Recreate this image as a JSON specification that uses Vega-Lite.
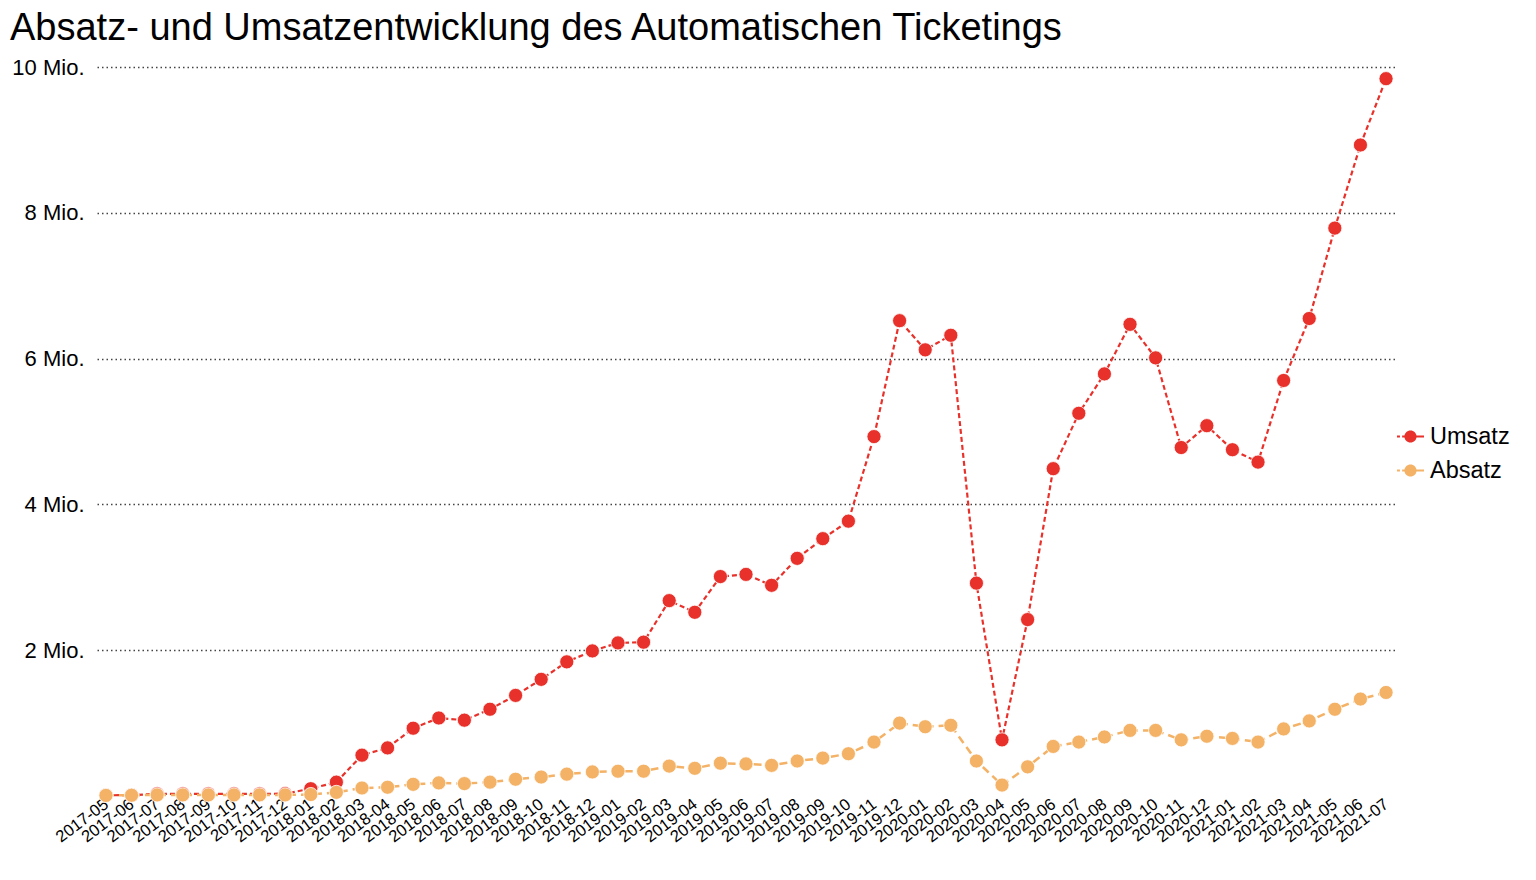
{
  "$schema": "https://vega.github.io/schema/vega-lite/v6.json",
  "autosize": "none",
  "width": 1298,
  "height": 729,
  "padding": {"left": 97, "top": 67, "right": 141, "bottom": 84},
  "background": "white",
  "config": {
    "font": "Liberation Sans",
    "view": {"stroke": null}
  },
  "title": {
    "text": "Absatz- und Umsatzentwicklung des Automatischen Ticketings",
    "anchor": "start",
    "frame": "group",
    "fontSize": 38,
    "fontWeight": "normal",
    "color": "black",
    "font": "Liberation Sans",
    "dx": -87,
    "offset": 8
  },
  "data": {
    "values": [
      {"month": "2017-05", "Umsatz": 10000, "Absatz": 8000},
      {"month": "2017-06", "Umsatz": 12000, "Absatz": 10000},
      {"month": "2017-07", "Umsatz": 30000, "Absatz": 15000},
      {"month": "2017-08", "Umsatz": 30000, "Absatz": 15000},
      {"month": "2017-09", "Umsatz": 30000, "Absatz": 15000},
      {"month": "2017-10", "Umsatz": 30000, "Absatz": 15000},
      {"month": "2017-11", "Umsatz": 30000, "Absatz": 15000},
      {"month": "2017-12", "Umsatz": 32000, "Absatz": 15000},
      {"month": "2018-01", "Umsatz": 100000, "Absatz": 20000},
      {"month": "2018-02", "Umsatz": 190000, "Absatz": 50000},
      {"month": "2018-03", "Umsatz": 560000, "Absatz": 110000},
      {"month": "2018-04", "Umsatz": 660000, "Absatz": 120000},
      {"month": "2018-05", "Umsatz": 930000, "Absatz": 160000},
      {"month": "2018-06", "Umsatz": 1070000, "Absatz": 180000},
      {"month": "2018-07", "Umsatz": 1040000, "Absatz": 170000},
      {"month": "2018-08", "Umsatz": 1190000, "Absatz": 190000},
      {"month": "2018-09", "Umsatz": 1380000, "Absatz": 230000},
      {"month": "2018-10", "Umsatz": 1600000, "Absatz": 260000},
      {"month": "2018-11", "Umsatz": 1840000, "Absatz": 300000},
      {"month": "2018-12", "Umsatz": 1990000, "Absatz": 330000},
      {"month": "2019-01", "Umsatz": 2100000, "Absatz": 340000},
      {"month": "2019-02", "Umsatz": 2110000, "Absatz": 340000},
      {"month": "2019-03", "Umsatz": 2680000, "Absatz": 410000},
      {"month": "2019-04", "Umsatz": 2520000, "Absatz": 380000},
      {"month": "2019-05", "Umsatz": 3010000, "Absatz": 450000},
      {"month": "2019-06", "Umsatz": 3040000, "Absatz": 440000},
      {"month": "2019-07", "Umsatz": 2890000, "Absatz": 420000},
      {"month": "2019-08", "Umsatz": 3260000, "Absatz": 480000},
      {"month": "2019-09", "Umsatz": 3530000, "Absatz": 520000},
      {"month": "2019-10", "Umsatz": 3770000, "Absatz": 580000},
      {"month": "2019-11", "Umsatz": 4930000, "Absatz": 740000},
      {"month": "2019-12", "Umsatz": 6520000, "Absatz": 1000000},
      {"month": "2020-01", "Umsatz": 6120000, "Absatz": 950000},
      {"month": "2020-02", "Umsatz": 6320000, "Absatz": 970000},
      {"month": "2020-03", "Umsatz": 2920000, "Absatz": 480000},
      {"month": "2020-04", "Umsatz": 770000, "Absatz": 150000},
      {"month": "2020-05", "Umsatz": 2420000, "Absatz": 400000},
      {"month": "2020-06", "Umsatz": 4490000, "Absatz": 680000},
      {"month": "2020-07", "Umsatz": 5250000, "Absatz": 740000},
      {"month": "2020-08", "Umsatz": 5790000, "Absatz": 810000},
      {"month": "2020-09", "Umsatz": 6470000, "Absatz": 900000},
      {"month": "2020-10", "Umsatz": 6010000, "Absatz": 900000},
      {"month": "2020-11", "Umsatz": 4780000, "Absatz": 770000},
      {"month": "2020-12", "Umsatz": 5080000, "Absatz": 820000},
      {"month": "2021-01", "Umsatz": 4750000, "Absatz": 790000},
      {"month": "2021-02", "Umsatz": 4580000, "Absatz": 740000},
      {"month": "2021-03", "Umsatz": 5700000, "Absatz": 920000},
      {"month": "2021-04", "Umsatz": 6550000, "Absatz": 1030000},
      {"month": "2021-05", "Umsatz": 7790000, "Absatz": 1190000},
      {"month": "2021-06", "Umsatz": 8930000, "Absatz": 1330000},
      {"month": "2021-07", "Umsatz": 9840000, "Absatz": 1420000}
    ]
  },
  "transform": [
    {"fold": ["Umsatz", "Absatz"], "as": ["series", "value"]}
  ],
  "encoding": {
    "x": {
      "field": "month",
      "type": "ordinal",
      "title": null,
      "scale": {"type": "point", "padding": 0.35},
      "axis": {
        "domain": false,
        "ticks": false,
        "grid": false,
        "labelAngle": -37,
        "labelFontSize": 16.5,
        "labelColor": "black",
        "labelAlign": "right",
        "labelBaseline": "middle",
        "labelPadding": 6,
        "labelDx": -6,
        "labelOverlap": false,
        "labelFont": "Liberation Sans"
      }
    },
    "y": {
      "field": "value",
      "type": "quantitative",
      "title": null,
      "scale": {"domain": [0, 10000000], "nice": false, "zero": true},
      "axis": {
        "values": [2000000, 4000000, 6000000, 8000000, 10000000],
        "labelExpr": "format(datum.value / 1000000, 'd') + ' Mio.'",
        "domain": false,
        "ticks": false,
        "grid": true,
        "gridColor": "#444444",
        "gridDash": [1.5, 3],
        "gridWidth": 1.5,
        "labelFontSize": 22,
        "labelColor": "black",
        "labelPadding": 13,
        "labelFont": "Liberation Sans"
      }
    },
    "color": {
      "field": "series",
      "type": "nominal",
      "scale": {"domain": ["Umsatz", "Absatz"], "range": ["#E8312A", "#F4B266"]},
      "legend": {
        "title": null,
        "orient": "none",
        "legendX": 1300,
        "legendY": 356,
        "labelFontSize": 23.5,
        "labelColor": "black",
        "labelFont": "Liberation Sans",
        "symbolType": "M-1,-0.07H-0.78V0.07H-1Z M-0.62,-0.07H-0.4V0.07H-0.62Z M0.4,-0.07H1V0.07H0.4Z M0.45,0A0.45,0.45 0 1 1 -0.45,0A0.45,0.45 0 1 1 0.45,0Z",
        "symbolSize": 729,
        "symbolStrokeWidth": 0,
        "symbolOpacity": 1,
        "rowPadding": 9,
        "labelOffset": 6,
        "encode": {
          "symbols": {
            "update": {
              "fill": {"scale": "color", "field": "value"},
              "stroke": {"value": "transparent"},
              "opacity": {"value": 1}
            }
          }
        }
      }
    }
  },
  "layer": [
    {
      "transform": [{"filter": "datum.series === 'Umsatz'"}],
      "layer": [
        {"mark": {"type": "line", "strokeWidth": 2.2, "strokeDash": [5, 3]}},
        {"mark": {"type": "point", "filled": true, "size": 200, "opacity": 1, "stroke": "white", "strokeWidth": 0.8}}
      ]
    },
    {
      "transform": [{"filter": "datum.series === 'Absatz'"}],
      "layer": [
        {"mark": {"type": "line", "strokeWidth": 2.5, "strokeDash": [8, 5]}},
        {"mark": {"type": "point", "filled": true, "size": 200, "opacity": 1, "stroke": "white", "strokeWidth": 0.8}}
      ]
    }
  ]
}
